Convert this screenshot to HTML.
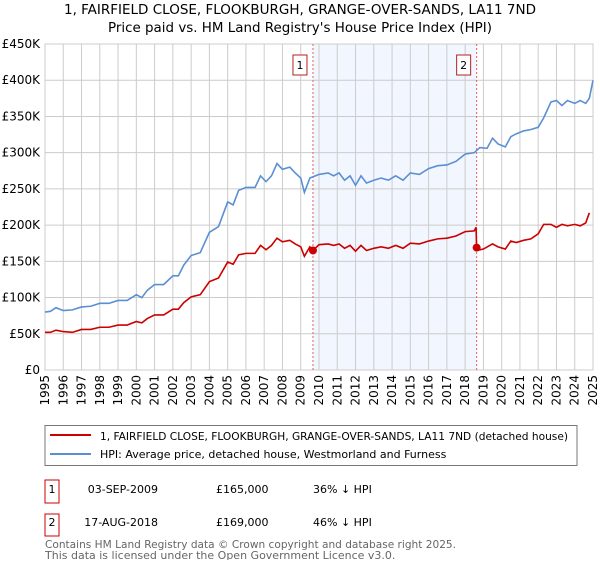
<!DOCTYPE html>
<html><head><meta charset="utf-8"><style>
body{margin:0;background:#fff;font-family:"Liberation Sans","DejaVu Sans",sans-serif;}
svg text{font-family:"DejaVu Sans","Liberation Sans",sans-serif;}
</style></head><body>
<svg width="600" height="560" viewBox="0 0 600 560">
<text x="300" y="14" text-anchor="middle" font-size="13" textLength="472" lengthAdjust="spacingAndGlyphs">1, FAIRFIELD CLOSE, FLOOKBURGH, GRANGE-OVER-SANDS, LA11 7ND</text>
<text x="300" y="32" text-anchor="middle" font-size="13" textLength="384" lengthAdjust="spacingAndGlyphs">Price paid vs. HM Land Registry's House Price Index (HPI)</text>
<g id="plot"></g>
<rect x="45" y="425.5" width="532" height="40" fill="#fff" stroke="#777"/>
<line x1="50" y1="435" x2="91" y2="435" stroke="#cc0000" stroke-width="2"/>
<text x="100" y="440" font-size="11" textLength="468" lengthAdjust="spacingAndGlyphs">1, FAIRFIELD CLOSE, FLOOKBURGH, GRANGE-OVER-SANDS, LA11 7ND (detached house)</text>
<line x1="50" y1="454" x2="91" y2="454" stroke="#5b8fd4" stroke-width="2"/>
<text x="100" y="458" font-size="11">HPI: Average price, detached house, Westmorland and Furness</text>
<g font-size="11">
<rect x="45" y="480" width="14" height="23" fill="#fff" stroke="#cc0000"/><text x="52" y="493" text-anchor="middle">1</text>
<text x="158" y="493" text-anchor="end">03-SEP-2009</text><text x="216" y="493">£165,000</text><text x="313" y="493">36% ↓ HPI</text>
<rect x="45" y="514" width="14" height="22" fill="#fff" stroke="#cc0000"/><text x="52" y="526" text-anchor="middle">2</text>
<text x="158" y="526" text-anchor="end">17-AUG-2018</text><text x="216" y="526">£169,000</text><text x="313" y="526">46% ↓ HPI</text>
</g>
<text x="45" y="548" font-size="11" fill="#666" textLength="411" lengthAdjust="spacingAndGlyphs">Contains HM Land Registry data © Crown copyright and database right 2025.</text>
<text x="45" y="559" font-size="11" fill="#666">This data is licensed under the Open Government Licence v3.0.</text>
</svg>
<script>
const yTicks=[0,50,100,150,200,250,300,350,400,450];
const yTickLabels=["£0","£50K","£100K","£150K","£200K","£250K","£300K","£350K","£400K","£450K"];
const xYears=[1995,1996,1997,1998,1999,2000,2001,2002,2003,2004,2005,2006,2007,2008,2009,2010,2011,2012,2013,2014,2015,2016,2017,2018,2019,2020,2021,2022,2023,2024,2025];
const hpiT=[1995,1995.3,1995.6,1996,1996.5,1997,1997.5,1998,1998.5,1999,1999.5,2000,2000.3,2000.6,2001,2001.5,2002,2002.3,2002.6,2003,2003.5,2004,2004.5,2005,2005.3,2005.6,2006,2006.5,2006.8,2007.1,2007.4,2007.7,2008,2008.4,2008.7,2009,2009.2,2009.5,2009.8,2010,2010.5,2010.8,2011.1,2011.4,2011.7,2012,2012.3,2012.6,2013,2013.4,2013.8,2014.2,2014.6,2015,2015.5,2016,2016.5,2017,2017.5,2018,2018.5,2018.8,2019.2,2019.5,2019.8,2020.2,2020.5,2020.8,2021.2,2021.6,2022,2022.3,2022.7,2023,2023.3,2023.6,2024,2024.3,2024.6,2024.8,2025];
const hpiV=[80,81,86,82,83,87,88,92,92,96,96,104,100,110,118,118,130,130,145,158,162,190,198,232,228,248,252,252,268,260,268,285,277,280,272,265,245,265,268,270,272,268,272,262,268,255,268,258,262,265,262,268,262,272,270,278,282,283,288,298,300,307,306,320,312,308,322,326,330,332,335,348,370,372,365,372,368,372,368,375,400];
const propT=[1995,1995.3,1995.6,1996,1996.5,1997,1997.5,1998,1998.5,1999,1999.5,2000,2000.3,2000.6,2001,2001.5,2002,2002.3,2002.6,2003,2003.5,2004,2004.5,2005,2005.3,2005.6,2006,2006.5,2006.8,2007.1,2007.4,2007.7,2008,2008.4,2008.7,2009,2009.2,2009.5,2009.67,2010,2010.5,2010.8,2011.1,2011.4,2011.7,2012,2012.3,2012.6,2013,2013.4,2013.8,2014.2,2014.6,2015,2015.5,2016,2016.5,2017,2017.5,2018,2018.5,2018.6,2018.63,2019,2019.5,2019.8,2020.2,2020.5,2020.8,2021.2,2021.6,2022,2022.3,2022.7,2023,2023.3,2023.6,2024,2024.3,2024.6,2024.8,2025];
const propV=[52,52,55,53,52,56,56,59,59,62,62,67,65,71,76,76,84,84,93,101,104,122,127,149,146,159,161,161,172,166,172,182,177,179,174,170,157,170,165,173,174,172,174,168,172,164,172,165,168,170,168,172,168,175,174,178,181,182,185,191,192,197,165,167,174,170,167,178,176,179,181,188,201,201,197,201,199,201,199,203,217];
const sales=[[2009.67,165],[2018.63,169]];
const L=45,R=593,T=44,B=370;
const X=y=>L+(y-1995)/30*(R-L);
const Y=v=>B-v/450*(B-T);
const g=document.getElementById('plot');
const NS='http://www.w3.org/2000/svg';
function mk(tag,attrs){const e=document.createElementNS(NS,tag);for(const k in attrs)e.setAttribute(k,attrs[k]);g.appendChild(e);return e;}
let sh=mk('rect',{x:X(sales[0][0]),y:T,width:X(sales[1][0])-X(sales[0][0]),height:B-T,fill:'#f2f6fe'});


yTicks.forEach((v,i)=>{
 let l=mk('line',{x1:L,x2:R,y1:Y(v),y2:Y(v),stroke:'#ccc'});
 
 
 let t=mk('text',{x:40,y:Y(v)+4,'text-anchor':'end','font-size':12});
 t.textContent=yTickLabels[i];
 
 
});
xYears.forEach(yr=>{
 let l=mk('line',{x1:X(yr),x2:X(yr),y1:T,y2:B,stroke:'#ccc'});
 
 
 let t=mk('text',{x:0,y:0,'text-anchor':'end','font-size':12,transform:`translate(${X(yr)+4},${B+5}) rotate(-90)`});
 t.textContent=yr;
 
 
});
let bd=mk('rect',{x:L,y:T,width:R-L,height:B-T,fill:'none',stroke:'#ccc'});


sales.forEach((s,i)=>{
 let l=mk('line',{x1:X(s[0]),x2:X(s[0]),y1:T,y2:B,stroke:'#e06060','stroke-dasharray':'2,2'});
 
 
 let r=mk('rect',{x:X(s[0])-20,y:55,width:14,height:20,fill:'#fff',stroke:'#b22222'});
 
 
 let t=mk('text',{x:X(s[0])-13,y:69,'text-anchor':'middle','font-size':11});
 t.textContent=String(i+1);
 
 
});
let hp=mk('polyline',{points:hpiT.map((t,i)=>X(t)+','+Y(hpiV[i])).join(' '),fill:'none',stroke:'#5b8fd4','stroke-width':1.6});


let pp=mk('polyline',{points:propT.map((t,i)=>X(t)+','+Y(propV[i])).join(' '),fill:'none',stroke:'#cc0000','stroke-width':1.6});


sales.forEach(s=>{
 let c=mk('circle',{cx:X(s[0]),cy:Y(s[1]),r:4,fill:'#cc0000'});
 
 
});
</script>
</body></html>
